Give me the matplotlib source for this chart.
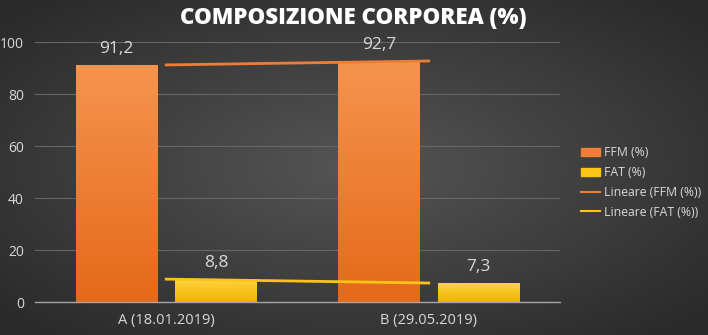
import matplotlib
matplotlib.use("Agg")
import matplotlib.pyplot as plt
import numpy as np
from matplotlib.patches import Patch
from matplotlib.lines import Line2D
from matplotlib.colors import LinearSegmentedColormap

# data
categories = ["A (18.01.2019)", "B (29.05.2019)"]
ffm = [91.2, 92.7]
fat = [8.8, 7.3]
value_labels_ffm = ["91,2", "92,7"]
value_labels_fat = ["8,8", "7,3"]

txt = "#d9d9d9"
plt.rcParams['font.family'] = ['Open Sans', 'DejaVu Sans']

fig = plt.figure(figsize=(7.08, 3.35), dpi=100)

# radial dark background
bg = fig.add_axes([0, 0, 1, 1])
yy, xx = np.mgrid[-1:1:335j, -1:1:708j]
r = np.sqrt((xx * 0.9) ** 2 + (yy * 0.9) ** 2)
bg_cmap = LinearSegmentedColormap.from_list("bg", ["#555555", "#2a2a2a"])
bg.imshow(r, cmap=bg_cmap, aspect="auto", extent=[0, 1, 0, 1], vmin=0, vmax=1.2)
bg.axis("off")

ax = fig.add_axes([0.0494, 0.0985, 0.7415, 0.776])
ax.patch.set_alpha(0)

x = np.arange(len(categories))
w = 0.31
off = 0.19

orange_cmap = LinearSegmentedColormap.from_list("or", ["#e5691a", "#f5944f"])
yellow_cmap = LinearSegmentedColormap.from_list("ye", ["#efb400", "#ffd340"])

bars_ffm = ax.bar(x - off, ffm, w, color="#ee7e35", zorder=2)
bars_fat = ax.bar(x + off, fat, w, color="#fcc419", zorder=2)

grad = np.linspace(0, 1, 100).reshape(-1, 1)
for bars, cm in [(bars_ffm, orange_cmap), (bars_fat, yellow_cmap)]:
    for b in bars:
        x0, y0 = b.get_x(), b.get_y()
        x1, y1 = x0 + b.get_width(), y0 + b.get_height()
        im = ax.imshow(grad, cmap=cm, aspect="auto", origin="lower",
                       extent=[x0, x1, y0, y1], zorder=2.5)
        im.set_clip_path(b)

# linear trendlines
ax.plot(x, np.poly1d(np.polyfit(x, ffm, 1))(x), color="#ee7e35", lw=2.0, zorder=3)
ax.plot(x, np.poly1d(np.polyfit(x, fat, 1))(x), color="#fcc419", lw=2.0, zorder=3)

for i in range(len(x)):
    ax.text(x[i] - off, ffm[i] + 3, value_labels_ffm[i], ha="center", va="bottom",
            color=txt, fontsize=12.5)
    ax.text(x[i] + off, fat[i] + 3, value_labels_fat[i], ha="center", va="bottom",
            color=txt, fontsize=12.5)

ax.set_xlim(-0.5, 1.5)
ax.set_ylim(0, 100)
ax.set_yticks(range(0, 101, 20))
ax.set_xticks(x)
ax.set_xticklabels(categories)
ax.tick_params(length=0, colors=txt, labelsize=10)
ax.tick_params(axis="x", pad=8, labelsize=10.5)
ax.tick_params(axis="y", pad=8)
ax.grid(axis="y", color="#666666", lw=0.8, zorder=0)
ax.set_axisbelow(True)
for s in ["top", "right", "left"]:
    ax.spines[s].set_visible(False)
ax.spines["bottom"].set_color("#a6a6a6")
ax.spines["bottom"].set_linewidth(1)

fig.text(0.499, 0.945, "COMPOSIZIONE CORPOREA (%)", ha="center", va="center",
         color="white", fontsize=16, fontweight="heavy")

handles = [Patch(color="#ee7e35"), Patch(color="#fcc419"),
           Line2D([], [], color="#ee7e35", lw=1.5),
           Line2D([], [], color="#fcc419", lw=1.5)]
labels = ["FFM (%)", "FAT (%)", "Lineare (FFM (%))", "Lineare (FAT (%))"]
leg = fig.legend(handles, labels, loc="center left", bbox_to_anchor=(0.805, 0.455),
                 frameon=False, fontsize=8.8, labelcolor=txt, handlelength=1.6,
                 handletextpad=0.3, labelspacing=0.55)

fig.savefig("out.png", dpi=100)
